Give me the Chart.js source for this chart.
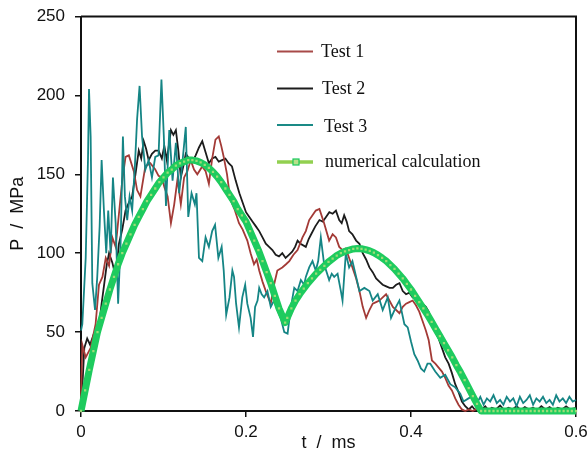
<!DOCTYPE html>
<html><head><meta charset="utf-8">
<style>html,body{margin:0;padding:0;background:#fff;} canvas{display:block;}</style>
<script src="https://cdn.jsdelivr.net/npm/chart.js@4.4.1/dist/chart.umd.min.js"></script>
</head><body>
<canvas id="c" width="588" height="450"></canvas>
<script>
const xTicks = [0, 0.2, 0.4, 0.6];
const xTickLabels = ['0', '0.2', '0.4', '0.6'];
const yTicks = [0, 50, 100, 150, 200, 250];
const yTickLabels = ['0', '50', '100', '150', '200', '250'];
const seriesNames = ['Test 1', 'Test 2', 'Test 3', 'numerical calculation'];
const xTitle = 't  /  ms';
const yTitle = 'P  /  MPa';

// [t (ms), P (MPa)]
const test1 = [[0,8.5],[0.0016,42],[0.0057,34],[0.0117,40],[0.0177,55],[0.0218,80],[0.026,85],[0.030,97],[0.034,92],[0.038,110],[0.042,104],[0.046,125],[0.050,146],[0.054,161],[0.058,162],[0.064,152],[0.068,140],[0.072,136],[0.078,155],[0.084,157],[0.090,153],[0.094,149],[0.098,148],[0.101,142],[0.105,136],[0.109,119],[0.113,131],[0.117,147],[0.121,131],[0.125,148],[0.129,152],[0.133,159],[0.137,153],[0.141,150],[0.147,155],[0.151,152],[0.155,144],[0.159,160],[0.163,172],[0.167,174],[0.170,168],[0.173,161],[0.177,150],[0.181,134],[0.186,128],[0.1915,119],[0.196,115],[0.2016,108],[0.2056,100],[0.2097,93],[0.213,96],[0.216,89],[0.220,82],[0.224,76],[0.227,72],[0.230,68],[0.234,80],[0.238,89],[0.244,91],[0.2485,93],[0.2525,95],[0.2575,99],[0.2625,102],[0.2685,110],[0.2725,114],[0.2766,121],[0.2806,124],[0.2846,127],[0.289,128],[0.2947,119],[0.3008,108],[0.305,112],[0.309,110],[0.313,104],[0.317,102],[0.321,103],[0.325,97],[0.329,91],[0.3335,84],[0.3375,76],[0.3415,66],[0.3456,59],[0.3496,64],[0.3536,68],[0.3577,69],[0.3617,70],[0.3657,72],[0.3698,74],[0.3738,70],[0.378,66],[0.382,64],[0.386,62],[0.390,66],[0.394,68],[0.398,69],[0.402,70],[0.406,67],[0.410,63],[0.414,57],[0.418,51],[0.4214,45],[0.4254,32],[0.4295,30],[0.4335,27.5],[0.4375,25],[0.4415,21],[0.4456,16],[0.4496,13],[0.4536,8],[0.4576,4],[0.4617,1],[0.4657,0],[0.47,1],[0.475,0],[0.48,1.5],[0.485,0.5],[0.49,1],[0.495,0],[0.5,1],[0.51,0.5],[0.52,1.5],[0.53,0],[0.54,1],[0.55,0.5],[0.56,1],[0.57,0],[0.58,1],[0.59,0.5],[0.6,1]];

const test2 = [[0,5],[0.0016,15],[0.004,40],[0.0075,46],[0.011,42],[0.015,48],[0.019,45],[0.022,55],[0.025,68],[0.028,80],[0.031,92],[0.034,100],[0.038,94],[0.042,85],[0.046,106],[0.050,115],[0.054,127],[0.058,132],[0.062,136],[0.066,150],[0.070,165],[0.073,160],[0.076,171],[0.079,166],[0.082,159],[0.086,163],[0.090,165],[0.094,165],[0.098,160],[0.101,168],[0.104,159],[0.107,170],[0.109,178],[0.112,175],[0.115,178],[0.118,165],[0.121,148],[0.124,155],[0.127,163],[0.131,160],[0.135,158],[0.139,162],[0.143,167],[0.147,171],[0.151,164],[0.155,157],[0.159,160],[0.163,161],[0.167,158],[0.171,159],[0.175,160],[0.179,157],[0.183,155],[0.1875,146],[0.192,138],[0.196,132],[0.200,126],[0.204,123],[0.208,120],[0.212,117],[0.216,114],[0.220,110],[0.224,106],[0.228,104],[0.232,102],[0.236,99],[0.240,98],[0.244,100],[0.248,97],[0.252,99],[0.256,101],[0.2595,104],[0.2625,108],[0.266,106],[0.2725,104],[0.276,109],[0.279,112],[0.284,117],[0.289,121],[0.293,120],[0.297,123],[0.301,126],[0.305,125],[0.309,127],[0.313,121],[0.316,119],[0.319,124],[0.322,120],[0.325,114],[0.329,112],[0.3335,108],[0.3375,106],[0.3415,100],[0.3456,96],[0.3496,91],[0.3536,88],[0.3577,84],[0.3617,82],[0.3657,80],[0.370,79],[0.374,78],[0.378,78],[0.382,80],[0.386,81],[0.390,76],[0.394,74],[0.398,75],[0.402,72],[0.406,73],[0.410,70],[0.414,68],[0.418,66],[0.4214,63],[0.4254,56],[0.4295,50],[0.4335,46],[0.4375,40],[0.4415,34],[0.4456,30],[0.4496,24],[0.4536,17],[0.4576,12],[0.4617,6],[0.4657,3],[0.47,1],[0.474,3],[0.478,0.5],[0.482,2.5],[0.486,1],[0.49,3],[0.494,0.5],[0.498,2],[0.503,1],[0.508,3.5],[0.513,0.5],[0.518,2],[0.523,1],[0.528,3],[0.533,0.5],[0.538,2.5],[0.543,1],[0.548,2],[0.553,0.5],[0.558,3],[0.563,1],[0.568,2.5],[0.573,0.5],[0.578,2],[0.583,1],[0.588,3],[0.593,1],[0.6,2]];

const test3 = [[0,51],[0.0016,55],[0.0057,97],[0.0085,160],[0.0097,204],[0.0117,174],[0.0137,81],[0.017,64],[0.0197,85],[0.0226,117],[0.025,159],[0.0278,127],[0.0306,100],[0.033,127],[0.0359,100],[0.0387,148],[0.042,119],[0.045,68],[0.048,106],[0.0508,174],[0.0532,136],[0.056,121],[0.0589,136],[0.062,127],[0.0653,155],[0.068,185],[0.071,206],[0.074,174],[0.078,153],[0.082,159],[0.086,148],[0.090,161],[0.094,162],[0.0975,210],[0.1004,174],[0.103,130],[0.107,178],[0.111,146],[0.115,170],[0.119,138],[0.123,158],[0.127,180],[0.130,123],[0.134,138],[0.138,131],[0.140,138],[0.143,97],[0.147,95],[0.151,110],[0.155,104],[0.159,114],[0.1625,118],[0.1665,97],[0.1705,104],[0.173,89],[0.176,61],[0.180,72],[0.1835,89],[0.1855,85],[0.188,68],[0.1915,53],[0.1955,72],[0.199,80],[0.2016,68],[0.2056,59],[0.2085,47],[0.211,66],[0.214,70],[0.216,78],[0.219,74],[0.222,72],[0.226,76],[0.230,66],[0.234,70],[0.238,64],[0.242,59],[0.2464,50],[0.2504,49],[0.2544,66],[0.2585,78],[0.2625,76],[0.2665,83],[0.2705,80],[0.2725,85],[0.2766,91],[0.2806,95],[0.2846,89],[0.2875,95],[0.2907,110],[0.2947,93],[0.3008,83],[0.3039,87],[0.3069,85],[0.311,87],[0.315,76],[0.317,70],[0.321,100],[0.325,91],[0.329,95],[0.3335,85],[0.3375,76],[0.3435,78],[0.3496,76],[0.3536,70],[0.3597,74],[0.3657,64],[0.3718,72],[0.3758,59],[0.3818,66],[0.3859,70],[0.392,55],[0.396,53],[0.400,44],[0.404,36],[0.408,32],[0.412,27],[0.416,25],[0.420,30],[0.4234,30],[0.4294,25],[0.4355,21],[0.4415,23],[0.4476,17],[0.4536,15],[0.4597,11],[0.4637,6],[0.4697,8],[0.476,10],[0.48,5],[0.484,9],[0.488,4],[0.492,8],[0.496,6],[0.5,10],[0.504,5],[0.508,7],[0.512,4],[0.516,9],[0.52,6],[0.524,8],[0.528,3],[0.532,9],[0.536,5],[0.54,7],[0.544,10],[0.548,4],[0.552,8],[0.556,6],[0.56,9],[0.564,5],[0.568,7],[0.572,4],[0.576,10],[0.58,6],[0.584,8],[0.588,5],[0.592,9],[0.596,6],[0.6,7]];

const numerical = [[0,0],[0.005,13],[0.01,26],[0.015,38],[0.02,50],[0.025,59],[0.03,68],[0.035,77],[0.04,85],[0.045,93],[0.05,100],[0.055,106],[0.06,112],[0.065,118],[0.07,123],[0.075,128],[0.08,133],[0.085,137],[0.09,141],[0.095,145],[0.1,148],[0.105,151],[0.11,153],[0.115,155.5],[0.12,157],[0.125,158],[0.13,159],[0.135,159],[0.14,158.5],[0.145,157.5],[0.15,156],[0.155,154],[0.16,151.5],[0.165,148.5],[0.17,145],[0.175,141],[0.18,137],[0.185,133],[0.19,128],[0.195,124],[0.2,120],[0.205,114],[0.21,108],[0.215,102],[0.22,95],[0.225,88],[0.23,81],[0.235,73],[0.24,65],[0.2475,56],[0.25,59],[0.255,65],[0.26,70],[0.265,74],[0.27,77.5],[0.275,81],[0.28,84],[0.285,87],[0.29,89.5],[0.295,92],[0.3,94.5],[0.305,96.5],[0.31,98.5],[0.315,100],[0.32,101.2],[0.325,102],[0.33,102.7],[0.335,103],[0.34,102.8],[0.345,102.3],[0.35,101.5],[0.355,100.3],[0.36,98.8],[0.365,97],[0.37,95],[0.375,92.5],[0.38,90],[0.385,87],[0.39,84],[0.395,80.5],[0.4,77],[0.405,73],[0.41,69],[0.415,65],[0.42,61],[0.425,56.5],[0.43,52],[0.435,47.5],[0.44,43],[0.445,38.5],[0.45,34],[0.455,29],[0.46,24.5],[0.465,19.5],[0.47,14.5],[0.475,9.5],[0.48,4.5],[0.485,0],[0.49,0],[0.495,0],[0.5,0],[0.505,0],[0.51,0],[0.515,0],[0.52,0],[0.525,0],[0.53,0],[0.535,0],[0.54,0],[0.545,0],[0.55,0],[0.555,0],[0.56,0],[0.565,0],[0.57,0],[0.575,0],[0.58,0],[0.585,0],[0.59,0],[0.595,0],[0.6,0]];

const toXY = arr => arr.map(p => ({x: p[0], y: p[1]}));

const colors = ['#a33a36', '#1c1c1c', '#158585', '#1ecb5e'];
const legendLineColors = ['#a84a48', '#1c1c1c', '#1a8a86', '#92d050'];

const framePlugin = {
  id: 'frame',
  beforeDatasetsDraw(chart) {
    const {ctx, chartArea: a} = chart;
    ctx.save();
    ctx.strokeStyle = '#111';
    ctx.lineWidth = 2;
    ctx.beginPath();
    ctx.moveTo(a.left, a.top);
    ctx.lineTo(a.right, a.top);
    ctx.lineTo(a.right, a.bottom);
    ctx.stroke();
    ctx.restore();
  }
};

const legendPlugin = {
  id: 'insideLegend',
  afterDraw(chart) {
    const ctx = chart.ctx;
    const rows = [
      {ly: 51.5, tx: 321, ty: 57},
      {ly: 88.5, tx: 322, ty: 93.5},
      {ly: 125, tx: 324, ty: 131.5},
      {ly: 162, tx: 325, ty: 166.5}
    ];
    ctx.save();
    ctx.font = '18px "Liberation Serif", "Times New Roman", serif';
    ctx.textBaseline = 'alphabetic';
    ctx.textAlign = 'left';
    seriesNames.forEach((name, i) => {
      const r = rows[i];
      ctx.strokeStyle = legendLineColors[i];
      ctx.lineWidth = i === 3 ? 3.5 : 2;
      ctx.beginPath();
      ctx.moveTo(277, r.ly);
      ctx.lineTo(313, r.ly);
      ctx.stroke();
      if (i === 3) {
        ctx.fillStyle = '#b8e08a';
        ctx.strokeStyle = '#18c85c';
        ctx.lineWidth = 1.2;
        ctx.fillRect(293, r.ly - 3, 6, 6);
        ctx.strokeRect(293, r.ly - 3, 6, 6);
      }
      ctx.fillStyle = '#111';
      ctx.fillText(name, r.tx, r.ty);
    });
    ctx.restore();
  }
};

const lineDs = (label, data, color, order) => ({
  label, data: toXY(data), borderColor: color, backgroundColor: color,
  borderWidth: 1.8, pointRadius: 0, tension: 0, fill: false, order, clip: 6
});

new Chart(document.getElementById('c'), {
  type: 'line',
  data: {
    datasets: [
      lineDs(seriesNames[0], test1, colors[0], 2),
      lineDs(seriesNames[1], test2, colors[1], 3),
      lineDs(seriesNames[2], test3, colors[2], 1),
      {
        label: seriesNames[3], data: toXY(numerical),
        borderColor: colors[3], borderWidth: 7, tension: 0, fill: false, order: 0, clip: 8,
        borderJoinStyle: 'round', borderCapStyle: 'butt',
        pointStyle: 'rect', pointRadius: 1.6, pointBorderWidth: 0,
        pointBackgroundColor: '#9edc78'
      }
    ]
  },
  options: {
    responsive: false,
    animation: false,
    devicePixelRatio: 1,
    layout: {padding: {top: 16.5, right: 12, left: 0, bottom: 0}},
    plugins: {legend: {display: false}, tooltip: {enabled: false}},
    scales: {
      x: {
        type: 'linear', min: 0, max: 0.6,
        afterBuildTicks: s => { s.ticks = xTicks.map(v => ({value: v})); },
        afterFit: s => { s.height = 39; s.paddingLeft = 0; s.paddingRight = 0; },
        ticks: {
          callback: (v, i) => xTickLabels[i],
          font: {family: '"Liberation Sans", Arial, sans-serif', size: 17},
          color: '#111', padding: 5, maxRotation: 0, autoSkip: false
        },
        grid: {display: true, drawOnChartArea: false, drawTicks: true, tickLength: 6, color: '#111', lineWidth: 1.5},
        border: {display: true, color: '#111', width: 2},
        title: {display: true, text: xTitle, color: '#111',
          font: {family: '"Liberation Sans", Arial, sans-serif', size: 18, lineHeight: 0.75},
          padding: {top: 0, bottom: 0}}
      },
      y: {
        type: 'linear', min: 0, max: 250,
        afterBuildTicks: s => { s.ticks = yTicks.map(v => ({value: v})); },
        afterFit: s => { s.width = 81; s.paddingTop = 0; s.paddingBottom = 0; },
        ticks: {
          callback: (v, i) => yTickLabels[i],
          font: {family: '"Liberation Sans", Arial, sans-serif', size: 17},
          color: '#111', padding: 10
        },
        grid: {display: true, drawOnChartArea: false, drawTicks: true, tickLength: 6, color: '#111', lineWidth: 1.5},
        border: {display: true, color: '#111', width: 2},
        title: {display: true, text: yTitle, color: '#111',
          font: {family: '"Liberation Sans", Arial, sans-serif', size: 18, lineHeight: 1},
          padding: {top: 9, bottom: 0}}
      }
    }
  },
  plugins: [framePlugin, legendPlugin]
});
</script>
</body></html>
